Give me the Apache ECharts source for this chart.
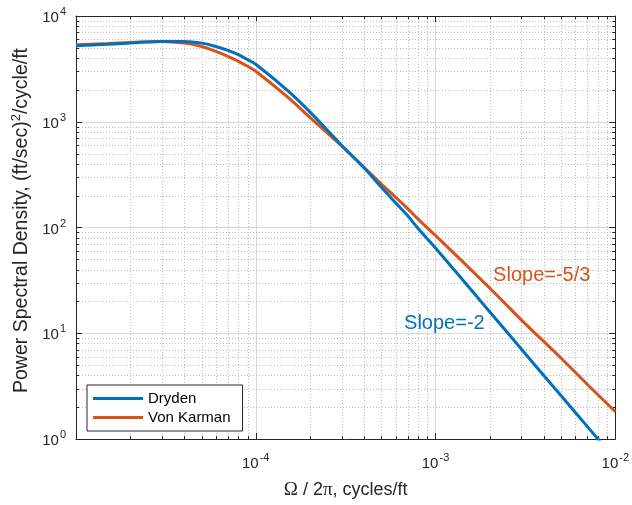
<!DOCTYPE html>
<html>
<head>
<meta charset="utf-8">
<script src="https://cdn.jsdelivr.net/npm/echarts@6/dist/echarts.min.js"></script>
<style>
html,body{margin:0;padding:0;background:#fff;}
#chart{width:632px;height:505px;}
</style>
</head>
<body>
<div id="chart"></div>
<script>
// Frequencies (cycles/ft)
const freq = [1e-5, 1.5e-5, 2e-5, 3e-5, 4e-5, 5e-5, 6e-5, 7e-5, 8e-5, 9e-5, 1e-4, 1.5e-4, 2e-4, 3e-4, 4e-4, 5e-4, 6e-4, 7e-4, 8e-4, 1e-3, 2e-3, 3e-3, 5e-3, 7e-3, 1e-2];
// Power spectral density
const dryden = [5240, 5400, 5540, 5740, 5740, 5540, 5150, 4730, 4310, 3870, 3500, 1980, 1240, 600, 368, 240, 171, 129, 98, 64, 16, 7.1, 2.56, 1.31, 0.64];
const vonKarman = [5350, 5500, 5620, 5740, 5540, 5150, 4630, 4160, 3730, 3350, 3000, 1715, 1100, 592, 371, 258, 193, 151, 120, 84, 26.8, 13.4, 5.8, 3.28, 1.82];
// Minor tick values
const minorX = [2e-5,3e-5,4e-5,5e-5,6e-5,7e-5,8e-5,9e-5,2e-4,3e-4,4e-4,5e-4,6e-4,7e-4,8e-4,9e-4,2e-3,3e-3,4e-3,5e-3,6e-3,7e-3,8e-3,9e-3];
const minorY = [2,3,4,5,6,7,8,9,20,30,40,50,60,70,80,90,200,300,400,500,600,700,800,900,2000,3000,4000,5000,6000,7000,8000,9000];
// Annotation anchors (data units)
const slopeVK = [3.9e-3, 35];
const slopeDr = [1.12e-3, 12.5];

const BLUE = '#0072BD', ORANGE = '#D95319', AX = '#262626';
const FONT = "'Liberation Sans', Arial, Helvetica, sans-serif";

const chart = echarts.init(document.getElementById('chart'), null, {renderer:'canvas'});

function expLabel(v) {
  const e = Math.round(Math.log10(v));
  return '{b|10}{s|' + e + '}';
}
const richTick = {
  b: {fontSize: 15, color: AX, fontFamily: FONT, verticalAlign: 'bottom'},
  s: {fontSize: 11, color: AX, fontFamily: FONT, verticalAlign: 'bottom', padding:[0,0,8,1]}
};

function minorRender(isX) {
  return function (params, api) {
    const cs = params.coordSys;
    const children = [];
    if (isX) {
      const x = Math.round(api.coord([api.value(0), 1])[0]) + 0.5;
      const yT = cs.y, yB = cs.y + cs.height;
      children.push({type:'line', shape:{x1:x,y1:yT,x2:x,y2:yB}, style:{stroke:'#bdbdbd', lineWidth:1, lineDash:[1,2]}});
      children.push({type:'line', shape:{x1:x,y1:yB,x2:x,y2:yB-3}, style:{stroke:AX, lineWidth:1}});
      children.push({type:'line', shape:{x1:x,y1:yT,x2:x,y2:yT+3}, style:{stroke:AX, lineWidth:1}});
    } else {
      const y = Math.round(api.coord([1e-5, api.value(1)])[1]) + 0.5;
      const xL = cs.x, xR = cs.x + cs.width;
      children.push({type:'line', shape:{x1:xL,y1:y,x2:xR,y2:y}, style:{stroke:'#bdbdbd', lineWidth:1, lineDash:[1,2]}});
      children.push({type:'line', shape:{x1:xL,y1:y,x2:xL+3,y2:y}, style:{stroke:AX, lineWidth:1}});
      children.push({type:'line', shape:{x1:xR,y1:y,x2:xR-3,y2:y}, style:{stroke:AX, lineWidth:1}});
    }
    return {type:'group', children: children, silent: true};
  };
}

const option = {
  backgroundColor: '#fff',
  animation: false,
  grid: {left: 76, right: 15, top: 16, bottom: 62, containLabel: false},
  legend: {
    data: ['Dryden', 'Von Karman'],
    orient: 'vertical',
    left: 87, top: 385,
    itemWidth: 50, itemHeight: 3,
    icon: 'rect',
    itemGap: 4,
    padding: [6, 12, 6, 6],
    backgroundColor: '#fff',
    borderColor: AX, borderWidth: 1,
    textStyle: {fontSize: 15, color: '#000', fontFamily: FONT}
  },
  xAxis: [{
    type: 'log', logBase: 10, min: 1e-5, max: 1e-2, position: 'bottom',
    name: '{o|Ω} / 2{o|π}, cycles/ft', nameLocation: 'middle', nameGap: 42,
    nameTextStyle: {fontSize: 18, color: AX, fontFamily: FONT,
      rich: {o: {fontSize: 19, fontFamily: "'Liberation Serif', 'DejaVu Serif', serif", color: AX}}},
    axisLine: {show: true, lineStyle: {color: AX, width: 1}},
    axisTick: {show: true, inside: true, length: 6, lineStyle: {color: AX}},
    axisLabel: {margin: 13, formatter: function(v){ const e = Math.round(Math.log10(v)); return e === -5 ? '' : expLabel(v); }, rich: richTick},
    splitLine: {show: true, lineStyle: {color: '#dadada', width: 1}},
    minorTick: {show: false}
  }, {
    type: 'log', logBase: 10, min: 1e-5, max: 1e-2, position: 'top',
    axisLine: {show: true, lineStyle: {color: AX, width: 1}},
    axisTick: {show: true, inside: true, length: 6, lineStyle: {color: AX}},
    axisLabel: {show: false}, splitLine: {show: false}
  }],
  yAxis: [{
    type: 'log', logBase: 10, min: 1, max: 1e4, position: 'left',
    name: 'Power Spectral Density, (ft/sec){s|2}/cycle/ft', nameLocation: 'middle', nameGap: 30,
    nameTextStyle: {fontSize: 19.5, color: AX, fontFamily: FONT, padding: [0, 0, 0, 14],
      rich: {s: {fontSize: 13, color: AX, fontFamily: FONT, verticalAlign: 'bottom', padding: [0,0,10,0]}}},
    axisLine: {show: true, lineStyle: {color: AX, width: 1}},
    axisTick: {show: true, inside: true, length: 6, lineStyle: {color: AX}},
    axisLabel: {margin: 10, formatter: expLabel, rich: richTick},
    splitLine: {show: true, lineStyle: {color: '#dadada', width: 1}}
  }, {
    type: 'log', logBase: 10, min: 1, max: 1e4, position: 'right',
    axisLine: {show: true, lineStyle: {color: AX, width: 1}},
    axisTick: {show: true, inside: true, length: 6, lineStyle: {color: AX}},
    axisLabel: {show: false}, splitLine: {show: false}
  }],
  series: [
    {
      type: 'custom', coordinateSystem: 'cartesian2d', xAxisIndex: 0, yAxisIndex: 0,
      silent: true, z: 1, renderItem: minorRender(true),
      data: minorX.map(v => [v, 1])
    },
    {
      type: 'custom', coordinateSystem: 'cartesian2d', xAxisIndex: 0, yAxisIndex: 0,
      silent: true, z: 1, renderItem: minorRender(false),
      data: minorY.map(v => [1e-5, v])
    },
    {
      name: 'Dryden', type: 'line', z: 5, smooth: 0.4,
      showSymbol: false, clip: true,
      data: freq.map((f, i) => [f, dryden[i]]),
      lineStyle: {color: BLUE, width: 3}, itemStyle: {color: BLUE},
      markPoint: {
        symbol: 'circle', symbolSize: 0, silent: true,
        data: [{coord: slopeDr}],
        label: {show: true, position: 'inside', formatter: 'Slope=-2', color: BLUE, fontSize: 20, fontFamily: FONT}
      }
    },
    {
      name: 'Von Karman', type: 'line', z: 4, smooth: 0.4,
      showSymbol: false, clip: true,
      data: freq.map((f, i) => [f, vonKarman[i]]),
      lineStyle: {color: ORANGE, width: 3}, itemStyle: {color: ORANGE},
      markPoint: {
        symbol: 'circle', symbolSize: 0, silent: true,
        data: [{coord: slopeVK}],
        label: {show: true, position: 'inside', formatter: 'Slope=-5/3', color: ORANGE, fontSize: 20, fontFamily: FONT}
      }
    }
  ]
};
chart.setOption(option);
</script>
</body>
</html>
